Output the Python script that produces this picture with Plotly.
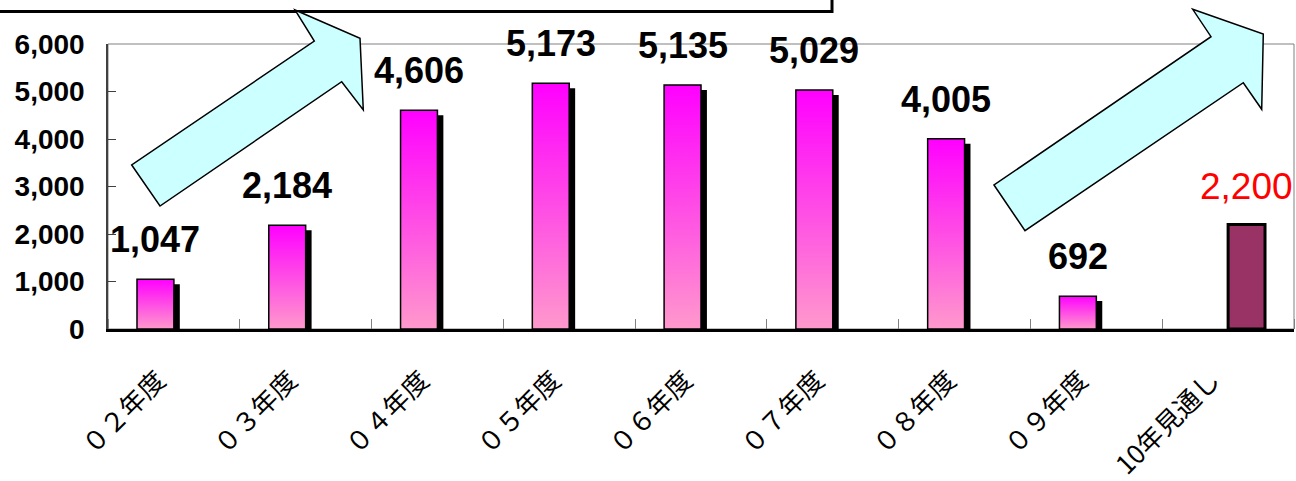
import plotly.graph_objects as go

# ---- data -------------------------------------------------------------
categories = ["０２年度", "０３年度", "０４年度", "０５年度", "０６年度",
              "０７年度", "０８年度", "０９年度", "10年見通し"]
actual_values = [1047, 2184, 4606, 5173, 5135, 5029, 4005, 692]   # 02〜09年度 実績
forecast_values = [2200]                                           # 10年見通し
y_tick_values = [0, 1000, 2000, 3000, 4000, 5000, 6000]

# ---- layout geometry (pixels) ----------------------------------------
W, H = 1296, 481
M_L, M_R, M_T, M_B = 108, 2, 44, 152
PW, PH = W - M_L - M_R, H - M_T - M_B

BAR_W = 0.28          # bar width in category units
SHADOW_DX = 0.045     # drop shadow shift to the right (category units)
SHADOW_DY = 105       # drop shadow shift downward (value units)

actual_x = list(range(len(actual_values)))
forecast_x = list(range(len(actual_values), len(actual_values) + len(forecast_values)))


def px_to_paper(px, py):
    return (px - M_L) / PW, (M_T + PH - py) / PH


def paper_path(points):
    pts = [px_to_paper(x, y) for x, y in points]
    return "M " + " L ".join(f"{x:.5f},{y:.5f}" for x, y in pts) + " Z"


fig = go.Figure()

# drop shadows behind the actual bars
fig.add_trace(go.Bar(
    x=actual_x, y=actual_values, base=-SHADOW_DY,
    width=BAR_W, offset=-BAR_W + SHADOW_DX,
    marker=dict(color="black", line=dict(width=0)),
    hoverinfo="skip", showlegend=False,
))

# forecast bar
fig.add_trace(go.Bar(
    x=forecast_x, y=forecast_values,
    width=BAR_W, offset=0,
    marker=dict(color="#993366", line=dict(color="black", width=3)),
    showlegend=False,
))

# actual bars with a vertical magenta→pink gradient
for xi, v in zip(actual_x, actual_values):
    x0, x1 = xi - BAR_W, xi
    fig.add_trace(go.Scatter(
        x=[x0, x0, x1, x1, x0], y=[0, v, v, 0, 0],
        mode="lines", fill="toself",
        fillgradient=dict(type="vertical",
                          colorscale=[[0, "#FF99CC"], [1, "#FF00FF"]]),
        line=dict(color="black", width=1.5),
        hoverinfo="skip", showlegend=False,
    ))

# value labels
annotations = []
for xi, v in zip(actual_x, actual_values):
    annotations.append(dict(
        x=xi - BAR_W / 2, y=v, xref="x", yref="y",
        text=f"{v:,}", showarrow=False, yanchor="bottom", yshift=17,
        font=dict(family="Liberation Sans, Arial", size=36, color="black", weight=700),
    ))
for xi, v in zip(forecast_x, forecast_values):
    annotations.append(dict(
        x=xi + BAR_W / 2, y=v, xref="x", yref="y",
        text=f"{v:,}", showarrow=False, yanchor="bottom", yshift=16,
        font=dict(family="Liberation Sans, Arial", size=37, color="#FF0000"),
    ))

shapes = [
    # plot area frame
    dict(type="rect", xref="paper", yref="paper", x0=0, y0=0, x1=1, y1=1,
         line=dict(color="#808080", width=1), layer="below"),
    # text box at the top
    dict(type="path", xref="paper", yref="paper",
         path=paper_path([(-10, -40), (832, -40), (832, 11.5), (-10, 11.5)]),
         line=dict(color="black", width=3), fillcolor="white", layer="above"),
    # growth arrows
    dict(type="path", xref="paper", yref="paper",
         path=paper_path([(131.7, 165), (160, 206), (341.7, 81.7), (363.3, 110),
                          (360, 38.3), (295, 10), (314.3, 41)]),
         line=dict(color="black", width=1.5), fillcolor="#CCFFFF", layer="above"),
    dict(type="path", xref="paper", yref="paper",
         path=paper_path([(994, 185), (1025, 230.7), (1243.3, 82.7), (1261.7, 109.3),
                          (1263.3, 34), (1192.7, 9.3), (1211, 36.7)]),
         line=dict(color="black", width=1.5), fillcolor="#CCFFFF", layer="above"),
]

fig.update_layout(
    width=W, height=H,
    margin=dict(l=M_L, r=M_R, t=M_T, b=M_B, pad=0, autoexpand=False),
    paper_bgcolor="white", plot_bgcolor="white",
    barmode="overlay",
    showlegend=False,
    annotations=annotations,
    shapes=shapes,
    xaxis=dict(
        range=[-0.5, len(categories) - 0.5],
        tickmode="array", tickvals=list(range(len(categories))), ticktext=categories,
        tickangle=-45, ticks="",
        tickfont=dict(family="Noto Sans CJK JP", size=26, color="black"),
        ticklabelstandoff=23, ticklabelshift=-16,
        showline=True, linecolor="black", linewidth=2.5,
        showgrid=False, zeroline=False, automargin=False,
        minor=dict(tickmode="linear", tick0=0.5, dtick=1, ticks="inside",
                   ticklen=10, tickcolor="#808080", tickwidth=1, showgrid=False),
        fixedrange=True,
    ),
    yaxis=dict(
        range=[0, 6000],
        tickmode="array", tickvals=y_tick_values, tickformat=",",
        ticks="inside", ticklen=8, tickcolor="#404040", tickwidth=1,
        tickfont=dict(family="Liberation Sans, Arial", size=28, color="black", weight=700),
        ticklabelstandoff=16,
        showline=True, linecolor="#404040", linewidth=1.5,
        showgrid=False, zeroline=False, automargin=False,
        fixedrange=True,
    ),
)

fig.write_html("out.html")
